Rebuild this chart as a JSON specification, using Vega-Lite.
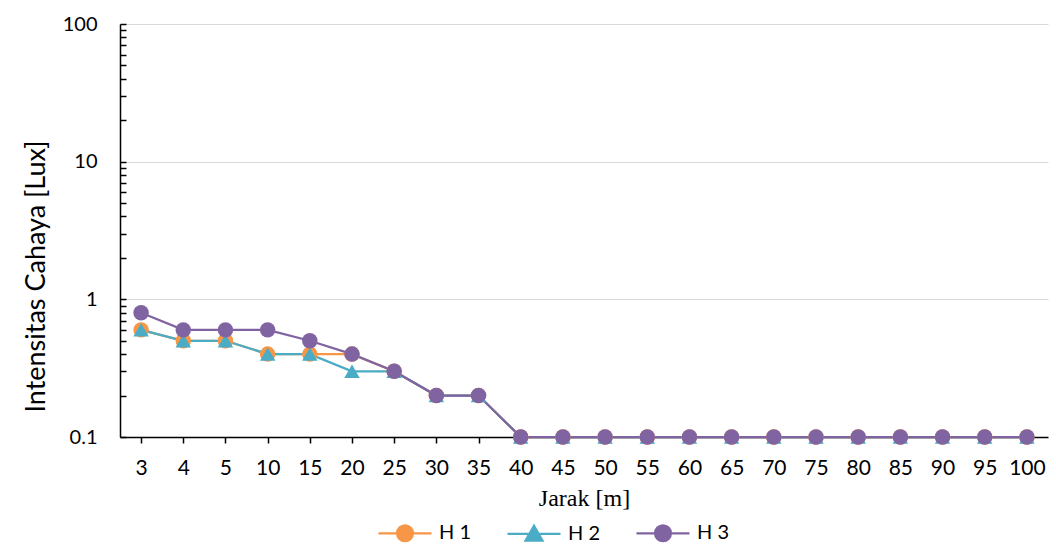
{
  "$schema": "https://vega.github.io/schema/vega-lite/v6.json",
  "width": 928,
  "height": 413,
  "autosize": {"type": "none"},
  "padding": {"left": 120, "top": 24, "right": 8, "bottom": 113},
  "background": "white",
  "config": {
    "view": {"stroke": null},
    "legend": {
      "orient": "none",
      "legendX": 257,
      "legendY": 481,
      "direction": "horizontal",
      "symbolSize": 2809,
      "symbolStrokeWidth": 2.25,
      "symbolOpacity": 1,
      "labelFont": "Lato",
      "labelFontSize": 20,
      "labelColor": "black",
      "labelOffset": 6,
      "columnPadding": 32
    }
  },
  "data": {
    "values": [
      {"jarak": "3", "seri": "H 1", "lux": 0.6},
      {"jarak": "4", "seri": "H 1", "lux": 0.5},
      {"jarak": "5", "seri": "H 1", "lux": 0.5},
      {"jarak": "10", "seri": "H 1", "lux": 0.4},
      {"jarak": "15", "seri": "H 1", "lux": 0.4},
      {"jarak": "20", "seri": "H 1", "lux": 0.4},
      {"jarak": "25", "seri": "H 1", "lux": 0.3},
      {"jarak": "30", "seri": "H 1", "lux": 0.2},
      {"jarak": "35", "seri": "H 1", "lux": 0.2},
      {"jarak": "40", "seri": "H 1", "lux": 0.1},
      {"jarak": "45", "seri": "H 1", "lux": 0.1},
      {"jarak": "50", "seri": "H 1", "lux": 0.1},
      {"jarak": "55", "seri": "H 1", "lux": 0.1},
      {"jarak": "60", "seri": "H 1", "lux": 0.1},
      {"jarak": "65", "seri": "H 1", "lux": 0.1},
      {"jarak": "70", "seri": "H 1", "lux": 0.1},
      {"jarak": "75", "seri": "H 1", "lux": 0.1},
      {"jarak": "80", "seri": "H 1", "lux": 0.1},
      {"jarak": "85", "seri": "H 1", "lux": 0.1},
      {"jarak": "90", "seri": "H 1", "lux": 0.1},
      {"jarak": "95", "seri": "H 1", "lux": 0.1},
      {"jarak": "100", "seri": "H 1", "lux": 0.1},
      {"jarak": "3", "seri": "H 2", "lux": 0.6},
      {"jarak": "4", "seri": "H 2", "lux": 0.5},
      {"jarak": "5", "seri": "H 2", "lux": 0.5},
      {"jarak": "10", "seri": "H 2", "lux": 0.4},
      {"jarak": "15", "seri": "H 2", "lux": 0.4},
      {"jarak": "20", "seri": "H 2", "lux": 0.3},
      {"jarak": "25", "seri": "H 2", "lux": 0.3},
      {"jarak": "30", "seri": "H 2", "lux": 0.2},
      {"jarak": "35", "seri": "H 2", "lux": 0.2},
      {"jarak": "40", "seri": "H 2", "lux": 0.1},
      {"jarak": "45", "seri": "H 2", "lux": 0.1},
      {"jarak": "50", "seri": "H 2", "lux": 0.1},
      {"jarak": "55", "seri": "H 2", "lux": 0.1},
      {"jarak": "60", "seri": "H 2", "lux": 0.1},
      {"jarak": "65", "seri": "H 2", "lux": 0.1},
      {"jarak": "70", "seri": "H 2", "lux": 0.1},
      {"jarak": "75", "seri": "H 2", "lux": 0.1},
      {"jarak": "80", "seri": "H 2", "lux": 0.1},
      {"jarak": "85", "seri": "H 2", "lux": 0.1},
      {"jarak": "90", "seri": "H 2", "lux": 0.1},
      {"jarak": "95", "seri": "H 2", "lux": 0.1},
      {"jarak": "100", "seri": "H 2", "lux": 0.1},
      {"jarak": "3", "seri": "H 3", "lux": 0.8},
      {"jarak": "4", "seri": "H 3", "lux": 0.6},
      {"jarak": "5", "seri": "H 3", "lux": 0.6},
      {"jarak": "10", "seri": "H 3", "lux": 0.6},
      {"jarak": "15", "seri": "H 3", "lux": 0.5},
      {"jarak": "20", "seri": "H 3", "lux": 0.4},
      {"jarak": "25", "seri": "H 3", "lux": 0.3},
      {"jarak": "30", "seri": "H 3", "lux": 0.2},
      {"jarak": "35", "seri": "H 3", "lux": 0.2},
      {"jarak": "40", "seri": "H 3", "lux": 0.1},
      {"jarak": "45", "seri": "H 3", "lux": 0.1},
      {"jarak": "50", "seri": "H 3", "lux": 0.1},
      {"jarak": "55", "seri": "H 3", "lux": 0.1},
      {"jarak": "60", "seri": "H 3", "lux": 0.1},
      {"jarak": "65", "seri": "H 3", "lux": 0.1},
      {"jarak": "70", "seri": "H 3", "lux": 0.1},
      {"jarak": "75", "seri": "H 3", "lux": 0.1},
      {"jarak": "80", "seri": "H 3", "lux": 0.1},
      {"jarak": "85", "seri": "H 3", "lux": 0.1},
      {"jarak": "90", "seri": "H 3", "lux": 0.1},
      {"jarak": "95", "seri": "H 3", "lux": 0.1},
      {"jarak": "100", "seri": "H 3", "lux": 0.1}
    ]
  },
  "encoding": {
    "x": {
      "field": "jarak",
      "type": "ordinal",
      "sort": null,
      "scale": {
        "type": "point",
        "padding": 0.5,
        "domain": ["3","4","5","10","15","20","25","30","35","40","45","50","55","60","65","70","75","80","85","90","95","100"]
      },
      "axis": {
        "title": "Jarak [m]",
        "titleFont": "Liberation Serif",
        "titleFontSize": 24,
        "titleFontWeight": "normal",
        "titleColor": "black",
        "titlePadding": 8,
        "labelFont": "Lato",
        "labelFontSize": 21,
        "labelColor": "black",
        "labelAngle": 0,
        "labelPadding": 14,
        "domainColor": "black",
        "domainWidth": 1.5,
        "tickColor": "black",
        "tickWidth": 1.5,
        "tickSize": 6,
        "grid": false
      }
    },
    "y": {
      "field": "lux",
      "type": "quantitative",
      "scale": {"type": "log", "domain": [0.1, 100]},
      "axis": {
        "values": [0.1,0.2,0.3,0.4,0.5,0.6,0.7,0.8,0.9,1,2,3,4,5,6,7,8,9,10,20,30,40,50,60,70,80,90,100],
        "format": "~g",
        "labelExpr": "abs(log(datum.value)/LN10 - round(log(datum.value)/LN10)) < 0.000001 ? datum.label : ''",
        "title": "Intensitas Cahaya [Lux]",
        "titleFont": "Lato",
        "titleFontSize": 27,
        "titleFontWeight": "normal",
        "titleColor": "black",
        "titleAngle": -90,
        "titleAlign": "center",
        "titleBaseline": "middle",
        "titleX": -84,
        "titleY": 252,
        "labelFont": "Lato",
        "labelFontSize": 20,
        "labelColor": "black",
        "labelPadding": 29,
        "domainColor": "black",
        "domainWidth": 1.5,
        "tickColor": "black",
        "tickWidth": 1.5,
        "tickSize": -6,
        "grid": true,
        "gridColor": {
          "condition": {"test": "abs(log(datum.value)/LN10 - round(log(datum.value)/LN10)) < 0.000001 && datum.value > 0.5", "value": "#d9d9d9"},
          "value": "transparent"
        },
        "gridWidth": 1.2
      }
    }
  },
  "layer": [
    {
      "mark": {"type": "line", "strokeWidth": 2.25},
      "encoding": {
        "stroke": {
          "field": "seri",
          "type": "nominal",
          "title": null,
          "scale": {"domain": ["H 1", "H 2", "H 3"], "range": ["#F79646", "#4BACC6", "#8064A2"]}
        }
      }
    },
    {
      "transform": [{"filter": "datum.seri === 'H 1'"}],
      "mark": {"type": "point", "shape": "circle", "filled": true, "opacity": 1, "size": 240},
      "encoding": {
        "fill": {
          "field": "seri",
          "type": "nominal",
          "title": null,
          "scale": {"domain": ["H 1", "H 2", "H 3"], "range": ["#F79646", "#4BACC6", "#8064A2"]}
        }
      }
    },
    {
      "transform": [{"filter": "datum.seri === 'H 2'"}],
      "mark": {"type": "point", "shape": "triangle-up", "filled": true, "opacity": 1, "size": 240},
      "encoding": {
        "fill": {
          "field": "seri",
          "type": "nominal",
          "title": null,
          "scale": {"domain": ["H 1", "H 2", "H 3"], "range": ["#F79646", "#4BACC6", "#8064A2"]}
        }
      }
    },
    {
      "transform": [{"filter": "datum.seri === 'H 3'"}],
      "mark": {"type": "point", "shape": "circle", "filled": true, "opacity": 1, "size": 240},
      "encoding": {
        "fill": {
          "field": "seri",
          "type": "nominal",
          "title": null,
          "scale": {"domain": ["H 1", "H 2", "H 3"], "range": ["#F79646", "#4BACC6", "#8064A2"]}
        }
      }
    },
    {
      "transform": [{"filter": "false"}],
      "mark": {"type": "point", "filled": true, "opacity": 1},
      "encoding": {
        "shape": {
          "field": "seri",
          "type": "nominal",
          "title": null,
          "scale": {
            "domain": ["H 1", "H 2", "H 3"],
            "range": [
              "M-1,0H1M0.3,0A0.3,0.3,0,1,1,-0.3,0A0.3,0.3,0,1,1,0.3,0Z",
              "M-1,0H1M0,-0.3L0.32,0.26L-0.32,0.26Z",
              "M-1,0H1M0.3,0A0.3,0.3,0,1,1,-0.3,0A0.3,0.3,0,1,1,0.3,0Z"
            ]
          }
        },
        "fill": {
          "field": "seri",
          "type": "nominal",
          "title": null,
          "scale": {"domain": ["H 1", "H 2", "H 3"], "range": ["#F79646", "#4BACC6", "#8064A2"]}
        },
        "stroke": {
          "field": "seri",
          "type": "nominal",
          "title": null,
          "scale": {"domain": ["H 1", "H 2", "H 3"], "range": ["#F79646", "#4BACC6", "#8064A2"]}
        }
      }
    }
  ]
}
